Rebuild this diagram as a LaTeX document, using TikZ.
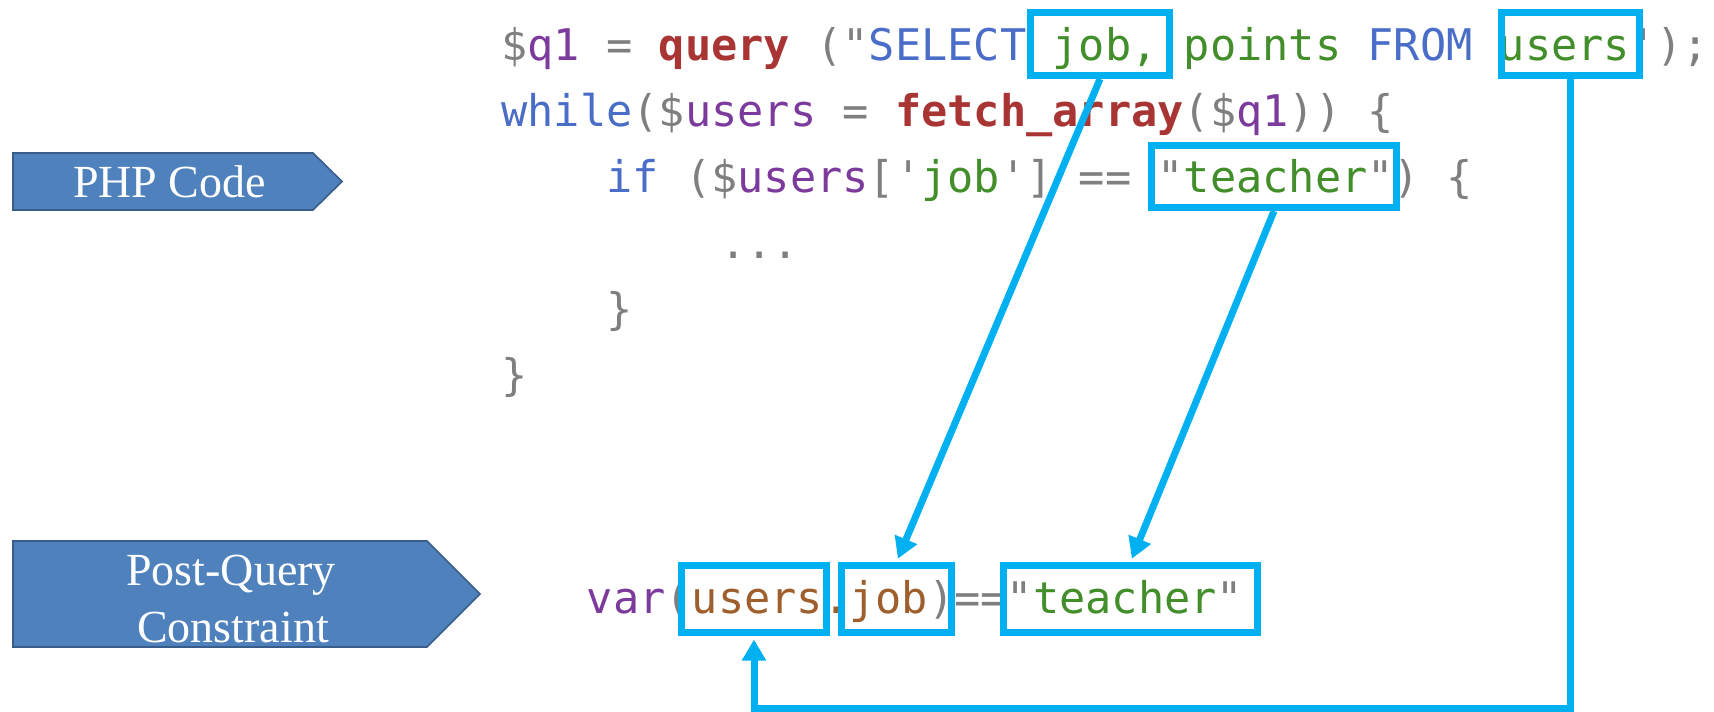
\documentclass[tikz,border=0pt]{standalone}
\usepackage{fontspec}
\setmainfont{Liberation Serif}
\setmonofont{DejaVu Sans Mono}
\usetikzlibrary{arrows.meta}
\definecolor{hlblue}{HTML}{00B0F0}
\definecolor{labfill}{HTML}{4F81BD}
\definecolor{labline}{HTML}{385D8A}
\definecolor{cgray}{HTML}{7F7F7F}
\definecolor{cpurple}{HTML}{7B3A9C}
\definecolor{cred}{HTML}{A93434}
\definecolor{cblue}{HTML}{4A6DC8}
\definecolor{cgreen}{HTML}{428E2A}
\definecolor{cbrown}{HTML}{9E5F2D}
\newcommand\tkGy[1]{{\color{cgray}\relax#1}}
\newcommand\tkPu[1]{{\color{cpurple}\relax#1}}
\newcommand\tkRd[1]{{\color{cred}\bfseries\relax#1}}
\newcommand\tkBl[1]{{\color{cblue}\relax#1}}
\newcommand\tkGr[1]{{\color{cgreen}\relax#1}}
\newcommand\tkBr[1]{{\color{cbrown}\relax#1}}
\begin{document}
\begin{tikzpicture}[x=0.5pt,y=-0.5pt,
  labshape/.style={fill=labfill,draw=labline,line width=0.8pt},
  labtext/.style={text=white,inner sep=0pt,anchor=base,font=\fontsize{23}{28}\selectfont},
  code/.style={inner sep=0pt,anchor=base west,font=\ttfamily\fontsize{21.8}{26}\selectfont\frenchspacing},
  hl/.style={draw=hlblue,line width=3.5pt,inner sep=0pt},
  conn/.style={draw=hlblue,line width=3.5pt,shorten >=1.75pt,-{Triangle[length=10.5pt,width=11.5pt]}}]
\useasboundingbox (0,0) rectangle (1714,712);
% left labels
\draw[labshape] (13,153) -- (313,153) -- (342,181.5) -- (313,210) -- (13,210) -- cycle;
\node[labtext] (php) at (169.5,197) {PHP Code};
\draw[labshape] (13,541) -- (427,541) -- (480,594) -- (427,647) -- (13,647) -- cycle;
\node[labtext] (pq1) at (231,585) {Post-Query};
\node[labtext] (pq2) at (233,642) {Constraint};
% code
\node[code] (l1) at (501,61) {\tkGy{\$}\tkPu{q1}\tkGy{ = }\tkRd{query}\tkGy{ ("}\tkBl{SELECT}\tkGr{ job, points }\tkBl{FROM}\tkGr{ users}\tkGy{\textquotesingle);}};
\node[code] (l2) at (501,126.8) {\tkBl{while}\tkGy{(\$}\tkPu{users}\tkGy{ = }\tkRd{fetch\_array}\tkGy{(\$}\tkPu{q1}\tkGy{)) \{}};
\node[code] (l3) at (606,192.6) {\tkBl{if}\tkGy{ (\$}\tkPu{users}\tkGy{[\textquotesingle}\tkGr{job}\tkGy{\textquotesingle] == "}\tkGr{teacher}\tkGy{") \{}};
\node[code] (l4) at (720,258.4) {\tkGy{...}};
\node[code] (l5) at (606,324.2) {\tkGy{\}}};
\node[code] (l6) at (501,390) {\tkGy{\}}};
\node[code] (pq) at (586.5,613) {\tkPu{var}\tkGy{(}\tkBr{users.job}\tkGy{)=="}\tkGr{teacher}\tkGy{"}};
% highlight boxes
\node[hl,minimum width=69.5pt,minimum height=31.5pt] (jobA) at (1100,44) {};
\node[hl,minimum width=69pt,minimum height=31.5pt] (usersA) at (1570.5,44) {};
\node[hl,minimum width=122.5pt,minimum height=31pt] (teacherA) at (1274,176.5) {};
\node[hl,minimum width=72.5pt,minimum height=33.5pt] (usersB) at (754,599) {};
\node[hl,minimum width=55pt,minimum height=33.5pt] (jobB) at (896.5,599) {};
\node[hl,minimum width=127pt,minimum height=33.5pt] (teacherB) at (1130.5,599) {};
% connectors
\coordinate (bot) at (0,708);
\draw[conn] (jobA.south) -- (jobB.north);
\draw[conn] (teacherA.south) -- (teacherB.north);
\draw[conn] (usersA.south) -- (usersA.south |- bot) -- (usersB.south |- bot) -- (usersB.south);
\end{tikzpicture}
\end{document}
